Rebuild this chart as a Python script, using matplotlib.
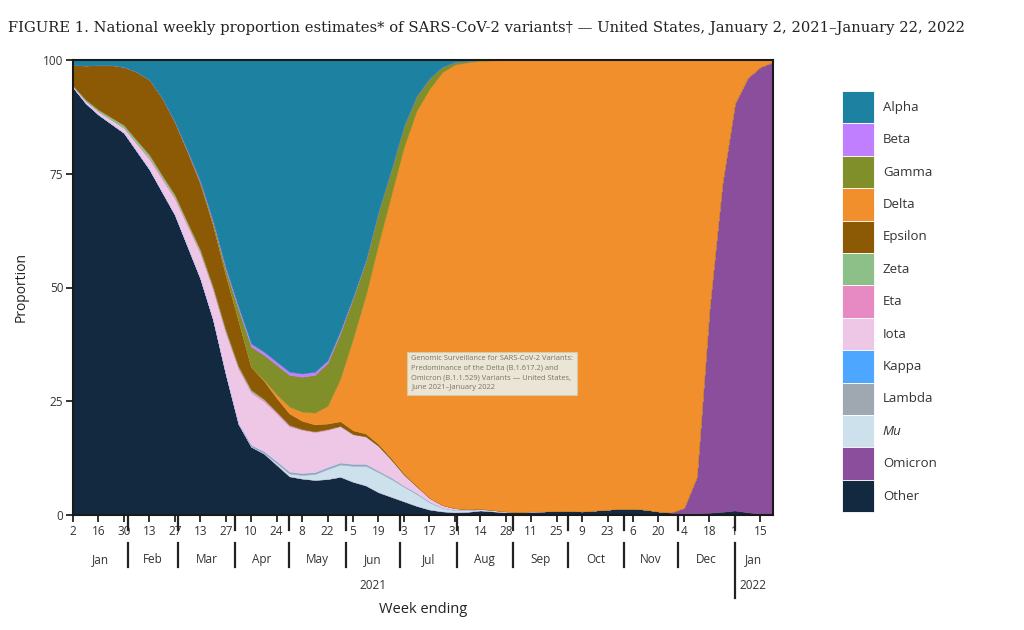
import matplotlib
matplotlib.use("Agg")
import matplotlib.pyplot as plt
import pandas as pd
import numpy as np

# ---------------- data (percent of sequences, weekly) ----------------
weeks = pd.date_range("2021-01-02", periods=56, freq="7D")

other = [94, 90.5, 88, 86, 84, 80, 76, 71, 66, 59,
         52, 43, 31, 20, 15, 13.5, 11, 8.5, 8, 7.7,
         7.9, 8.4, 7.3, 6.5, 5, 4, 3, 2, 1.2, 0.8,
         0.6, 0.7, 1.0, 0.8, 0.6, 0.6, 0.7, 0.8, 0.9, 0.9,
         0.8, 1.0, 1.2, 1.4, 1.4, 1.2, 0.8, 0.5, 0.4, 0.4,
         0.5, 0.7, 1.0, 0.6, 0.3, 0.2]
omicron = [0] * 47 + [0.1, 1.2, 8, 45, 72, 89.5, 95.5, 98.2, 99.4]
mu = [0] * 15 + [0.1, 0.4, 0.6, 0.8, 1.3, 2.2, 2.7, 3.5, 4.3, 4.4, 3.9, 3.2,
                 2.6, 1.6, 0.8, 0.5, 0.4, 0.3, 0.3, 0.2, 0.1, 0.1] + [0] * 19
lambda_ = [0] * 13 + [0.1] + [0.3] * 12 + [0.2, 0.2, 0.1] + [0] * 27
kappa = [0] * 14 + [0.1] * 10 + [0] * 32
iota = [0.3, 0.5, 0.7, 0.9, 1.1, 1.6, 2.2, 2.8, 3.5, 4.5,
        5.5, 6.5, 9, 12, 11.5, 11, 10.5, 10, 9.5, 8.8,
        8.2, 8, 6.5, 6, 5.5, 4, 2.5, 1.5, 0.9, 0.6,
        0.4, 0.2, 0.1] + [0] * 23
eta = [0] * 5 + [0.1] + [0.3] * 11 + [0.2] * 4 + [0.1] * 3 + [0] * 32
zeta = [0.1, 0.3, 0.4, 0.5, 0.6, 0.7, 0.7, 0.6, 0.6, 0.5,
        0.5, 0.4, 0.4, 0.3, 0.3, 0.2, 0.1, 0.1] + [0] * 38
epsilon = [4.5, 7.5, 9.8, 11.5, 12.8, 15, 16.5, 17, 16, 15.5,
           14.5, 13.5, 12, 10, 5, 4, 3, 2.5, 1.8, 1.5,
           1.2, 1.0, 0.8, 0.6, 0.4, 0.3, 0.2, 0.1] + [0] * 28
delta = [0] * 15 + [0.2, 0.8, 1.5, 2, 2.6, 3.9, 9.4, 20.2, 30.4, 44,
                    57.8, 71.8, 82.5, 89.8, 95.1, 97.5, 98.2, 98.4, 98.8, 99.2,
                    99.3, 99.2, 99.2, 99.1, 99.1, 99.2, 99.0, 98.8, 98.6, 98.6,
                    98.8, 99.2, 99.4, 98.4, 91.6, 54.5, 27.3, 9.5, 3.9, 1.5, 0.4]
gamma = [0] * 9 + [0.1, 0.3, 0.6, 1.2, 2.5, 4.5, 5.5, 6.5, 7, 7.7,
                   8.3, 9.4, 10, 8.9, 7.5, 7.1, 5.7, 4.7, 3.3, 2.4,
                   1.2, 0.6, 0.3, 0.2, 0.1] + [0] * 22
beta = [0] * 8 + [0.1, 0.2, 0.3, 0.4, 0.5, 0.6, 0.7, 0.7, 0.7, 0.7,
                  0.7, 0.7, 0.6, 0.5, 0.3, 0.2, 0.1] + [0] * 31
alpha = [1.1, 1.2, 1.1, 1.1, 1.5, 2.6, 4.3, 8.3, 13.5, 19.9,
         26.6, 35.3, 45.6, 54.2, 62.3, 64.1, 66.3, 68.5, 68.9, 68.5,
         66, 59.5, 52, 44, 33.2, 24, 14.4, 7.8, 4, 1.5,
         0.4, 0.2] + [0] * 24

# stacking order: bottom -> top
series = [other, omicron, mu, lambda_, kappa, iota, eta, zeta,
          epsilon, delta, gamma, beta, alpha]
names = ["Other", "Omicron", "Mu", "Lambda", "Kappa", "Iota", "Eta", "Zeta",
         "Epsilon", "Delta", "Gamma", "Beta", "Alpha"]
colors = ["#13293f", "#8b4e9c", "#cce1eb", "#9fa8b0", "#4da6ff", "#efc7e6",
          "#e78ac3", "#8dbf88", "#8c5a05", "#f28f2d", "#808f29", "#bf7fff",
          "#1d81a2"]

month_names = ["Jan", "Feb", "Mar", "Apr", "May", "Jun", "Jul", "Aug", "Sep",
               "Oct", "Nov", "Dec", "Jan"]
y_ticks = [0, 25, 50, 75, 100]

title = ("FIGURE 1. National weekly proportion estimates* of SARS-CoV-2 variants\u2020 "
         "\u2014 United States, January 2, 2021\u2013January 22, 2022")
note = ("Genomic Surveillance for SARS-CoV-2 Variants:\n"
        "Predominance of the Delta (B.1.617.2) and\n"
        "Omicron (B.1.1.529) Variants \u2014 United States,\n"
        "June 2021\u2013January 2022")

# ---------------- figure ----------------
plt.rcParams["font.family"] = ["Open Sans", "DejaVu Sans"]
W, H = 1024, 630
fig = plt.figure(figsize=(W / 100, H / 100), dpi=100, facecolor="white")
L, R, T, B = 73, 773, 60, 515
ax = fig.add_axes([L / W, 1 - B / H, (R - L) / W, (B - T) / H])

polys = ax.stackplot(weeks, *series, colors=colors, labels=names,
                     linewidth=0.3, edgecolor="face")

ax.set_xlim(weeks[0], weeks[-1])
ax.set_ylim(0, 100)
ax.set_yticks(y_ticks)
ax.set_yticklabels([str(v) for v in y_ticks], fontsize=8.5, color="#333333")
ax.set_ylabel("Proportion", fontsize=10, color="#222222", labelpad=10)

ax.set_xticks(weeks[::2])
ax.set_xticklabels([str(d.day) for d in weeks[::2]], fontsize=8.5, color="#333333")
ax.tick_params(axis="both", length=5, width=1.3, color="#222222", pad=2)

for s in ax.spines.values():
    s.set_linewidth(1.5)
    s.set_color("#1a1a1a")

# month separators and labels
xt = ax.get_xaxis_transform()
bounds = list(pd.date_range("2021-02-01", "2022-01-01", freq="MS"))
edges = [weeks[0]] + bounds + [weeks[-1]]
for i, b in enumerate(bounds):
    last = (i == len(bounds) - 1)
    ax.plot([b, b], [0, -0.033], transform=xt, color="#222222", lw=1.6, clip_on=False)
    ax.plot([b, b], [-0.062, -0.182 if last else -0.114], transform=xt,
            color="#222222", lw=1.6, clip_on=False)
for i, m in enumerate(month_names):
    a, b = edges[i], edges[i + 1]
    mid = a + (b - a) / 2
    ax.text(mid, -0.097, m, transform=xt, ha="center", va="center",
            fontsize=8.5, color="#333333")

ax.text(pd.Timestamp("2021-06-16"), -0.156, "2021", transform=xt, ha="center",
        va="center", fontsize=8.5, color="#333333")
ax.text(pd.Timestamp("2022-01-11"), -0.156, "2022", transform=xt, ha="center",
        va="center", fontsize=8.5, color="#333333")
ax.text(0.5, -0.207, "Week ending", transform=ax.transAxes, ha="center",
        va="center", fontsize=10.5, color="#222222")

# annotation box
ax.text(pd.Timestamp("2021-07-07"), 31.2, note, fontsize=5.4, color="#7a7468",
        va="center", ha="left", linespacing=1.5,
        bbox=dict(boxstyle="square,pad=0.5", facecolor="#ebe5d5",
                  edgecolor="#d8c9a4", linewidth=0.8))

# title
fig.text(8 / W, 1 - 28 / H, title, fontsize=10.65, family="DejaVu Serif",
         va="center", ha="left", color="#222222")

# legend
handles = polys[::-1]
labels = names[::-1]
leg = fig.legend(handles, labels, loc="upper left",
                 bbox_to_anchor=(842 / W, 1 - 91 / H), frameon=False,
                 fontsize=9.5, handlelength=2.45, handleheight=3.4,
                 handletextpad=0.65, labelspacing=0.0, borderpad=0,
                 borderaxespad=0)
for t in leg.get_texts():
    t.set_color("#333333")
    if t.get_text() == "Mu":
        t.set_fontstyle("italic")
for p in leg.legend_handles:
    p.set_edgecolor("white")
    p.set_linewidth(0.6)

fig.savefig("out.png", dpi=100, facecolor="white")
